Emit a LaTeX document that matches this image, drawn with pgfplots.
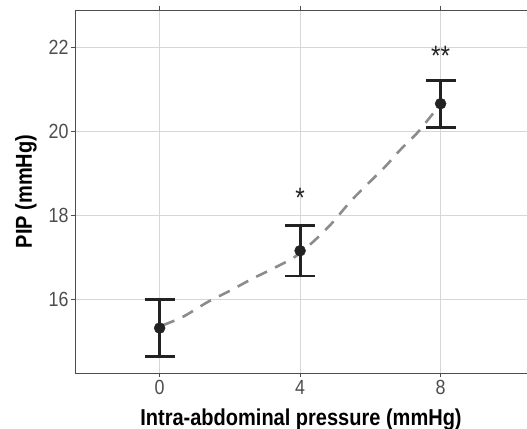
\documentclass[border=0pt]{standalone}
\usepackage{pgfplots}
\pgfplotsset{compat=1.18}
\usepackage{fontspec}
\setmainfont{Liberation Sans}[FakeStretch=0.87]
\definecolor{tickgray}{HTML}{4D4D4D}
\definecolor{gridgray}{HTML}{D6D6D6}
\definecolor{fitgray}{HTML}{8C8C8C}
\definecolor{ink}{HTML}{222222}
\begin{document}
\begin{tikzpicture}
\begin{axis}[
    name=ax,
    scale only axis,
    width=452pt, height=363pt,
    xmin=-2.41, xmax=10.46,
    ymin=14.26, ymax=22.9,
    xtick={0,4,8}, ytick={16,18,20,22},
    grid=major,
    major grid style={gridgray, line width=0.9pt},
    axis line style={draw=none},
    tick align=outside,
    major tick length=4pt,
    tick style={tickgray, line width=0.8pt},
    ticklabel style={font=\fontsize{20.5}{22}\selectfont, text=tickgray},
    yticklabel style={xshift=1pt},
    /pgf/number format/assume math mode=true,
    xlabel={Intra-abdominal pressure (mmHg)},
    ylabel={PIP (mmHg)},
    label style={font=\fontsize{23}{26}\selectfont\bfseries, text=black},
    xlabel style={yshift=-7pt},
    ylabel style={yshift=5pt},
    clip=false,
]
% fitted trend
\addplot[fitgray, line width=2.6pt, dash pattern=on 12pt off 9pt, smooth] coordinates {
(0.1,15.40) (0.67,15.60) (1.39,15.96) (2.01,16.22) (2.63,16.50) (3.24,16.75)
(3.86,17.03) (4.38,17.39) (4.91,17.83) (5.43,18.34) (5.90,18.74) (6.42,19.17)
(6.85,19.57) (7.33,19.97) (7.75,20.40) (7.95,20.60)
};
% means with error bars
\addplot[ink, only marks, mark=*, mark size=5.5pt, mark options={fill=ink},
    error bars/.cd, y dir=both, y explicit,
    error bar style={line width=2.8pt, ink},
    error mark options={rotate=90, mark size=15pt, line width=2.8pt, ink}]
coordinates {
(0,15.33) +- (0,0.67)
(4,17.17) +- (0,0.60)
(8,20.67) +- (0,0.56)
};
\node[font=\fontsize{28}{30}\selectfont, text=ink] at (axis cs:4,18.42) {*};
\node[font=\fontsize{28}{30}\selectfont, text=ink] at (axis cs:8,21.80) {**};
\draw[tickgray, line width=0.9pt] (rel axis cs:1,1) -- (rel axis cs:0,1) -- (rel axis cs:0,0) -- (rel axis cs:1,0);
\end{axis}
\pgfresetboundingbox
\path[use as bounding box] ([xshift=-75pt,yshift=-56pt]ax.south west) rectangle ([yshift=10pt]ax.north east);
\end{tikzpicture}
\end{document}
